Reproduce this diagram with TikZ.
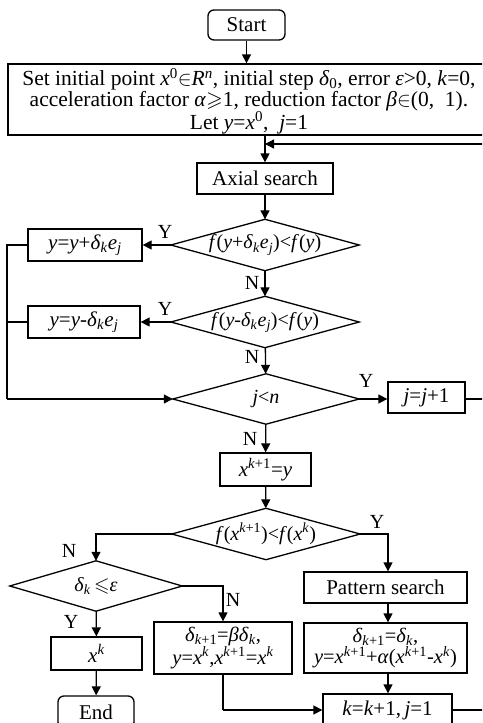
\documentclass[tikz,border=0pt]{standalone}
\usepackage{amssymb}
\usepackage{fontspec}
\setmainfont{Liberation Serif}
\usetikzlibrary{arrows.meta}
\newcommand{\va}[1]{\textit{#1}}
\newcommand{\sps}[1]{\textsuperscript{#1}}
\newcommand{\sbs}[1]{\textsubscript{#1}}
\begin{document}
\begin{tikzpicture}[x=1pt,y=-1pt,
  every node/.style={font=\fontsize{21}{21}\selectfont, inner sep=0pt},
  box/.style={draw, line width=1.3pt, rectangle, align=center},
  term/.style={draw, line width=1.3pt, rectangle, rounded corners=6pt},
  dia/.style={rectangle, minimum width=188pt, minimum height=51pt, font=\fontsize{20}{20}\selectfont},
  lbl/.style={font=\fontsize{20}{20}\selectfont},
  arr/.style={line width=1.3pt, -{Triangle[length=9pt,width=9pt]}},
  ln/.style={line width=1.3pt}]
\useasboundingbox (0,0) rectangle (482,723);
\clip (0,0) rectangle (482,723);
% nodes
\node[term, minimum width=77pt, minimum height=30pt] (start) at (246.5,25) {Start};
\node[box, minimum width=482pt, minimum height=71pt] (init) at (249,99.5) {};
\node[align=center, font=\fontsize{21.5}{20.5}\selectfont] (initt) at (249,101)
  {Set initial point \va{x}\sps{0}$\in$\va{R}\sps{\va{n}}, initial step \va{δ}\sbs{0}, error \va{ε}>0, \va{k}=0,\\
   acceleration factor \va{α}$\geqslant$1, reduction factor \va{β}$\in$(0,\enspace 1).\\
   Let \va{y}=\va{x}\sps{0},\enspace \va{j}=1};
\node[box, minimum width=136pt, minimum height=31pt] (axial) at (265,178.5) {Axial search};
\node[dia] (d1) at (265,245) {\va{f}(\va{y}+\va{δ}\sbs{\va{k}}\va{e}\sbs{\va{j}})<\va{f}(\va{y})};
\node[box, minimum width=114pt, minimum height=32pt] (b1) at (85,245) {\va{y}=\va{y}+\va{δ}\sbs{\va{k}}\va{e}\sbs{\va{j}}};
\node[dia] (d2) at (265,322) {\va{f}(\va{y}-\va{δ}\sbs{\va{k}}\va{e}\sbs{\va{j}})<\va{f}(\va{y})};
\node[box, minimum width=112pt, minimum height=32pt] (b2) at (84,322) {\va{y}=\va{y}-\va{δ}\sbs{\va{k}}\va{e}\sbs{\va{j}}};
\node[dia, minimum width=186pt, minimum height=50pt] (d3) at (266,399) {\va{j}<\va{n}};
\node[box, minimum width=77pt, minimum height=31pt] (jj) at (426.5,397.5) {\va{j}=\va{j}+1};
\node[box, minimum width=91pt, minimum height=33pt] (xk1) at (265.5,469.5) {\va{x}\sps{\va{k}+1}=\va{y}};
\node[dia] (d4) at (266,534) {\va{f}(\va{x}\sps{\va{k}+1})<\va{f}(\va{x}\sps{\va{k}})};
\node[box, minimum width=163pt, minimum height=31pt] (pat) at (385.5,587.5) {Pattern search};
\node[dia, minimum width=172pt, minimum height=50pt] (d5) at (96,586) {\va{δ}\sbs{\va{k}}\,$\leqslant$\va{ε}};
\node[box, minimum width=91pt, minimum height=33pt] (xk) at (96.5,653.5) {\va{x}\sps{\va{k}}};
\node[term, minimum width=76pt, minimum height=32pt] (end) at (96,712) {End};
\node[box, minimum width=138pt, minimum height=52pt, font=\fontsize{20.5}{20.5}\selectfont] (bb) at (223,648)
  {\va{δ}\sbs{\va{k}+1}=\va{β}\va{δ}\sbs{\va{k}},\\ \va{y}=\va{x}\sps{\va{k}},\va{x}\sps{\va{k}+1}=\va{x}\sps{\va{k}}};
\node[box, minimum width=163pt, minimum height=50pt, font=\fontsize{20.5}{20.5}\selectfont] (ab) at (385.5,648)
  {\va{δ}\sbs{\va{k}+1}=\va{δ}\sbs{\va{k}},\\ \va{y}=\va{x}\sps{\va{k}+1}+\va{α}(\va{x}\sps{\va{k}+1}-\va{x}\sps{\va{k}})};
\node[box, minimum width=129pt, minimum height=32pt] (kb) at (387.5,710) {\va{k}=\va{k}+1,\,\va{j}=1};
% diamond outlines
\foreach \d in {d1,d2,d3,d4,d5}
  \draw[ln, line join=miter] (\d.north) -- (\d.east) -- (\d.south) -- (\d.west) -- cycle;
% helper coordinates
\coordinate (col) at (388,534);
\coordinate (lx) at (7,399);
\coordinate (fb) at (265,144);
\coordinate (rx) at (495,144);
\coordinate (bot) at (223,710);
% connectors
\draw[arr] (start) -- (init.north -| start);
\draw[arr] (init.south -| axial) -- (axial);
\draw[arr] (rx) -- (fb);
\draw[arr] (axial) -- (d1);
\draw[arr] (d1.west) -- (b1);
\draw[arr] (d1) -- (d2);
\draw[arr] (d2.west) -- (b2);
\draw[arr] (d2) -- (d3);
\draw[ln] (b1.west) -| (lx);
\draw[ln] (b2.west) -- (b2.west -| lx);
\draw[arr] (lx) -- (d3.west);
\draw[arr] (d3.east) -- (jj.west |- d3.east);
\draw[ln] (jj.east |- d3.east) -- (d3.east -| rx) -- (rx);
\draw[arr] (d3) -- (xk1);
\draw[arr] (xk1) -- (d4);
\draw[arr] (d4.west) -| (d5.north);
\draw[arr] (d4.east) -| (pat.north -| col);
\draw[arr] (pat.south -| col) -- (ab.north -| col);
\draw[arr] (ab.south -| col) -- (kb.north -| col);
\draw[arr] (d5.east) -| (bb.north);
\draw[arr] (d5) -- (xk);
\draw[arr] (xk) -- (end);
\draw[ln] (bb.south) |- (bot);
\draw[arr] (bot) -- (kb.west);
\draw[ln] (kb.east) -- (kb.east -| rx) -- (rx);
% labels
\node[lbl] (y1) at (165,232) {Y};
\node[lbl] (n1) at (252,283) {N};
\node[lbl] (y2) at (165,309) {Y};
\node[lbl] (n2) at (252,357) {N};
\node[lbl] (y3) at (366,381) {Y};
\node[lbl] (n3) at (250,439) {N};
\node[lbl] (y4) at (377,522) {Y};
\node[lbl] (n4) at (69,551) {N};
\node[lbl] (n5) at (233,600) {N};
\node[lbl] (y5) at (71,622) {Y};
\end{tikzpicture}
\end{document}
